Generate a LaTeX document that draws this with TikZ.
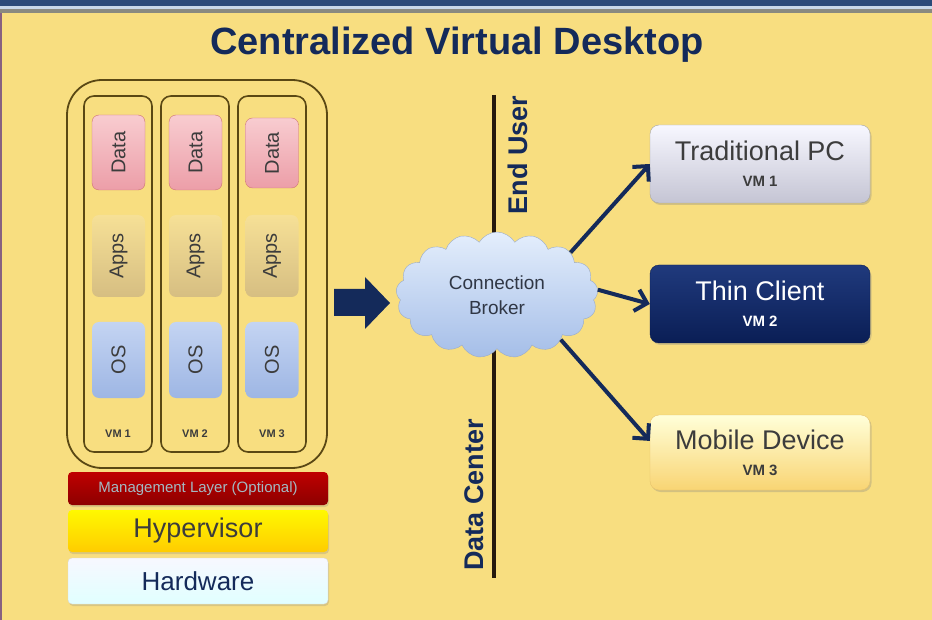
\documentclass[tikz,border=0pt]{standalone}
\usepackage{fontspec}
\setmainfont{Liberation Sans}
\usetikzlibrary{shapes.symbols,shadows,arrows.meta}

\definecolor{bgyellow}{RGB}{248,222,128}
\definecolor{topblue}{RGB}{43,74,120}
\definecolor{topline}{RGB}{200,216,232}
\definecolor{topgray}{RGB}{138,138,128}
\definecolor{navy}{RGB}{20,42,90}
\definecolor{olive}{RGB}{90,72,20}
\definecolor{txtgray}{RGB}{60,60,60}
\definecolor{datatop}{RGB}{248,204,208}
\definecolor{databot}{RGB}{236,158,168}
\definecolor{dataline}{RGB}{205,115,115}
\definecolor{appstop}{RGB}{246,224,150}
\definecolor{appsbot}{RGB}{214,190,130}
\definecolor{ostop}{RGB}{196,212,242}
\definecolor{osbot}{RGB}{158,182,228}
\definecolor{cloudtop}{RGB}{228,238,252}
\definecolor{cloudbot}{RGB}{165,190,232}
\definecolor{thintop}{RGB}{32,58,125}
\definecolor{thinbot}{RGB}{10,30,85}

\begin{document}
\begin{tikzpicture}[x=1pt,y=-1pt,>={Straight Barb[length=11pt,width=22pt]},
    vmframe/.style={draw=olive,line width=1.6pt,rounded corners=10pt,minimum width=68pt,minimum height=356pt},
    layer/.style={rounded corners=7pt,minimum width=53pt,inner sep=0pt},
    vtext/.style={rotate=90,text=txtgray,font=\fontsize{20}{22}\selectfont},
    vmname/.style={font=\bfseries\fontsize{11}{12}\selectfont,text=txtgray},
    bar/.style={rounded corners=4pt,minimum width=260pt,inner sep=0pt,
        drop shadow={opacity=0.25,shadow xshift=1pt,shadow yshift=-2pt}},
    client/.style={rounded corners=9pt,minimum width=220pt,minimum height=78pt,align=center,inner sep=0pt,
        font=\fontsize{27}{30}\selectfont,drop shadow={opacity=0.3,shadow xshift=1.5pt,shadow yshift=-2pt}},
    side/.style={rotate=90,text=navy,font=\bfseries\fontsize{27}{29}\selectfont},
    link/.style={->,line width=4pt,draw=navy}]

    % Hintergrund
    \useasboundingbox (0,0) rectangle (932,620);
    \fill[bgyellow] (0,0) rectangle (932,620);
    \fill[topblue] (0,0) rectangle (932,6);
    \fill[topline] (0,6) rectangle (932,9);
    \fill[topgray] (0,9) rectangle (932,13);
    \fill[topgray!70!violet] (0,13) rectangle (2,620);

    % Titel
    \node[anchor=base,text=navy,font=\bfseries\fontsize{38}{40}\selectfont] (title) at (457,55) {Centralized Virtual Desktop};

    % VM Stapel
    \node[draw=olive,line width=1.8pt,rounded corners=35pt,minimum width=260pt,minimum height=388pt] (pool) at (197,274) {};
    \node[vmframe] (vm1) at (118,274) {};
    \node[vmframe] (vm2) at (195,274) {};
    \node[vmframe] (vm3) at (272,274) {};

    \node[layer,minimum height=75pt,top color=datatop,bottom color=databot,draw=dataline] (data1) at (118.5,152.5) {};
    \node[layer,minimum height=75pt,top color=datatop,bottom color=databot,draw=dataline] (data2) at (195.5,152.5) {};
    \node[layer,minimum height=70pt,top color=datatop,bottom color=databot,draw=dataline] (data3) at (272,153) {};
    \node[vtext] at (data1) {Data};
    \node[vtext] at (data2) {Data};
    \node[vtext] at (data3) {Data};

    \node[layer,minimum height=82pt,top color=appstop,bottom color=appsbot] (apps1) at (118.5,256) {};
    \node[layer,minimum height=82pt,top color=appstop,bottom color=appsbot] (apps2) at (195.5,256) {};
    \node[layer,minimum height=82pt,top color=appstop,bottom color=appsbot] (apps3) at (272,256) {};
    \node[vtext] at (apps1) {Apps};
    \node[vtext] at (apps2) {Apps};
    \node[vtext] at (apps3) {Apps};

    \node[layer,minimum height=76pt,top color=ostop,bottom color=osbot] (os1) at (118.5,360) {};
    \node[layer,minimum height=76pt,top color=ostop,bottom color=osbot] (os2) at (195.5,360) {};
    \node[layer,minimum height=76pt,top color=ostop,bottom color=osbot] (os3) at (272,360) {};
    \node[vtext] at (os1) {OS};
    \node[vtext] at (os2) {OS};
    \node[vtext] at (os3) {OS};

    \node[vmname] (vmname1) at (118,434) {VM 1};
    \node[vmname] (vmname2) at (195,434) {VM 2};
    \node[vmname] (vmname3) at (272,434) {VM 3};

    % Schichten
    \node[bar,minimum height=33pt,top color=red!75!black,bottom color=red!55!black,
          text=cyan!25!gray!70!white,font=\fontsize{15}{16}\selectfont] (mgmt) at (198,488.5) {Management Layer (Optional)};
    \node[bar,minimum height=42pt,top color=yellow!95!orange,bottom color=orange!40!yellow,
          text=txtgray,font=\fontsize{27}{29}\selectfont] (hyper) at (198,531) {Hypervisor};
    \node[bar,minimum height=46pt,top color=blue!3!white,bottom color=cyan!12!white,draw=gray!30,
          text=navy,font=\fontsize{26}{28}\selectfont] (hw) at (198,581) {Hardware};

    % Pfeil
    \fill[navy] (334,289) -- (365,289) -- (365,277) -- (390,303) -- (365,329) -- (365,316) -- (334,316) -- cycle;

    % Trennlinie
    \coordinate (divtop) at (494,95);
    \coordinate (divbot) at (494,578);
    \draw[line width=4pt,black!80!brown] (divtop) -- (divbot);
    \node[side] (enduser) at (518,155) {End User};
    \node[side] (datacenter) at (474,495) {Data Center};

    % Broker
    \node[cloud,cloud puffs=17,cloud puff arc=120,aspect=1.6,minimum width=202pt,minimum height=126pt,inner sep=0pt,
          top color=cloudtop,bottom color=cloudbot,draw=cloudbot!70!gray,
          align=center,text=txtgray!70!navy,font=\fontsize{19}{25}\selectfont] (broker) at (497,295) {Connection\\Broker};

    % Endgeraete
    \node[client,top color=blue!3!white,bottom color=blue!15!gray!40!white,draw=gray!70,text=txtgray] (pc) at (760,164)
        {Traditional PC\\[-4pt]{\bfseries\fontsize{15}{16}\selectfont VM 1}};
    \node[client,top color=thintop,bottom color=thinbot,draw=thinbot,text=white] (thin) at (760,304)
        {Thin Client\\[-4pt]{\bfseries\fontsize{15}{16}\selectfont VM 2}};
    \node[client,minimum height=75pt,top color=yellow!15!white,bottom color=bgyellow!90!orange,draw=bgyellow!70!brown,text=txtgray] (mobile) at (760,452.5)
        {Mobile Device\\[-4pt]{\bfseries\fontsize{15}{16}\selectfont VM 3}};

    \draw[link] (broker.30) -- (pc.west);
    \draw[link] (broker.3) -- (thin.west);
    \draw[link] (broker.-35) -- (mobile.174);
\end{tikzpicture}
\end{document}
